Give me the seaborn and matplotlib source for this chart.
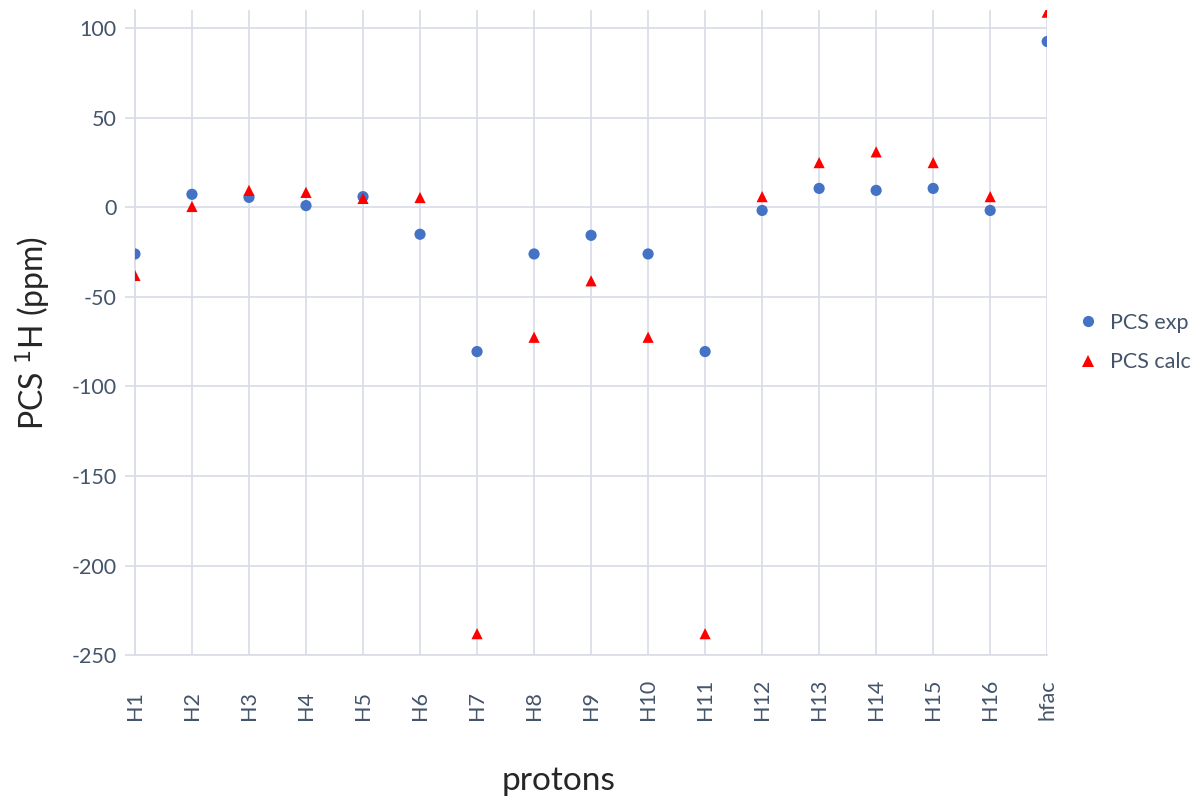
import numpy as np
import pandas as pd
import seaborn as sns
import matplotlib.pyplot as plt

sns.set_style('white')
plt.rcParams['font.family'] = ['Lato', 'DejaVu Sans']
plt.rcParams['axes.unicode_minus'] = False

protons = ['H1', 'H2', 'H3', 'H4', 'H5', 'H6', 'H7', 'H8', 'H9', 'H10',
           'H11', 'H12', 'H13', 'H14', 'H15', 'H16', 'hfac']
pcs_exp = [-26, 7.3, 5.6, 1, 6, -15, -80.5, -26, -15.6, -26,
           -80.5, -1.7, 10.6, 9.5, 10.6, -1.7, 92.6]
pcs_calc = [-38, 0.5, 9.5, 8.4, 5, 5.5, -238, -72.5, -41, -72.5,
            -238, 6, 25, 31, 25, 6, 109]

df = pd.DataFrame({'protons': protons * 2,
                   'pcs': pcs_exp + pcs_calc,
                   'serie': ['PCS exp'] * len(protons) + ['PCS calc'] * len(protons)})

tick_col = '#44546A'
grid_col = '#D9DCE6'

fig, ax = plt.subplots(figsize=(11.9, 7.98), dpi=100)
fig.subplots_adjust(left=0.1134, right=0.880, top=0.987, bottom=0.179)

sns.scatterplot(data=df, x='protons', y='pcs', hue='serie', style='serie',
                palette={'PCS exp': '#4472C4', 'PCS calc': '#FF0000'},
                markers={'PCS exp': 'o', 'PCS calc': '^'},
                s=65, linewidth=0, ax=ax, zorder=3)

ax.set_xlim(0, len(protons) - 1)
ax.set_ylim(-250, 110)
ax.set_yticks([100, 50, 0, -50, -100, -150, -200, -250])
ax.grid(True, color=grid_col, linewidth=1.2)
ax.set_axisbelow(True)
for side in ['top', 'right']:
    ax.spines[side].set_visible(False)
for side in ['left', 'bottom']:
    ax.spines[side].set_color(grid_col)
    ax.spines[side].set_linewidth(1.2)

ax.tick_params(axis='y', which='both', left=True, length=7, width=1.2, color=grid_col,
               labelsize=15.5, labelcolor=tick_col, pad=6)
ax.tick_params(axis='x', bottom=False, labelsize=15.5, labelcolor=tick_col,
               labelrotation=90, pad=43.5)
for lbl in ax.get_xticklabels():
    lbl.set_verticalalignment('bottom')

ax.set_xlabel('protons', fontsize=24)
ax.xaxis.set_label_coords(0.464, -0.172)
ax.set_ylabel('PCS $^{1}$H (ppm)', fontsize=23, labelpad=14)

leg = ax.legend(loc='center left', bbox_to_anchor=(1.0, 0.485), frameon=False,
                fontsize=15.5, handletextpad=0.0, labelspacing=0.9, markerscale=1.0)
for t in leg.get_texts():
    t.set_color(tick_col)

plt.savefig('out.png', dpi=100)
